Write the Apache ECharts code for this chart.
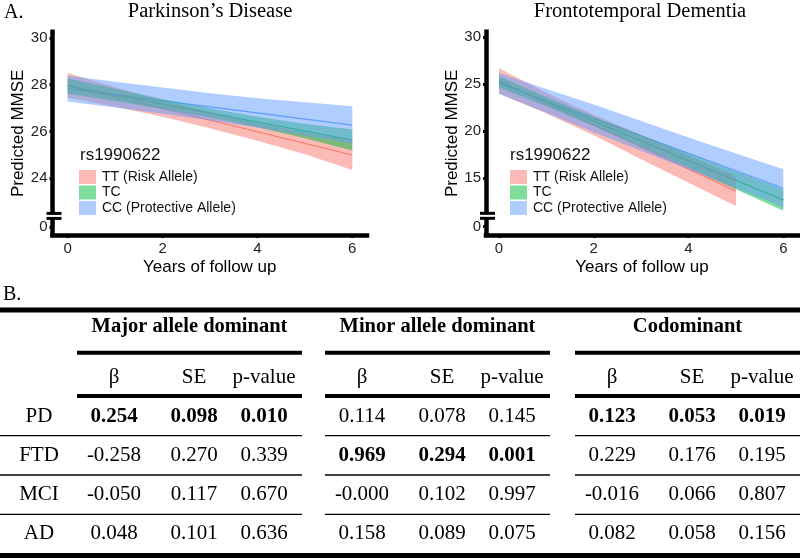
<!DOCTYPE html>
<html><head><meta charset="utf-8">
<script src="https://cdn.jsdelivr.net/npm/echarts@6/dist/echarts.min.js"></script>
<style>html,body{margin:0;padding:0;background:#fff}#c{width:800px;height:558px}</style>
</head><body><div id="c"></div>
<script>
// ---------------- DATA ----------------
const genotypes = ['TT (Risk Allele)', 'TC', 'CC (Protective Allele)'];
const legendTitle = 'rs1990622';
const plotTitles = ['Parkinson\u2019s Disease', 'Frontotemporal Dementia'];
const xTicks = [0, 2, 4, 6];
const pdYTicks = [0, 24, 26, 28, 30];
const ftdYTicks = [0, 15, 20, 25, 30];

const years6 = [0, 1, 2, 3, 4, 5, 6];
const years5 = [0, 1, 2, 3, 4, 5];

// Parkinson's Disease: fitted lines (endpoints) and confidence bands
const pdTTFit = [[0, 27.97], [6, 24.99]];
const pdTCFit = [[0, 27.94], [6, 25.63]];
const pdCCFit = [[0, 27.83], [6, 26.27]];
const pdTTLo = [27.45, 27.05, 26.62, 26.13, 25.60, 25.02, 24.35];
const pdTTHi = [28.49, 27.89, 27.32, 26.83, 26.36, 25.96, 25.63];
const pdTCLo = [27.62, 27.30, 26.96, 26.59, 26.18, 25.71, 25.18];
const pdTCHi = [28.26, 27.82, 27.38, 26.99, 26.62, 26.33, 26.08];
const pdCCLo = [27.28, 27.02, 26.75, 26.47, 26.16, 25.82, 25.47];
const pdCCHi = [28.38, 28.12, 27.87, 27.63, 27.42, 27.24, 27.07];

// Frontotemporal Dementia
const ftdTTFit = [[0, 25.35], [5, 13.65]];
const ftdTCFit = [[0, 25.25], [6, 12.69]];
const ftdCCFit = [[0, 25.10], [6, 13.94]];
const ftdTTLo = [24.00, 21.91, 19.57, 17.03, 14.54, 12.05];
const ftdTTHi = [26.70, 24.11, 21.77, 19.63, 17.44, 15.25];
const ftdTCLo = [24.65, 22.66, 20.56, 18.37, 16.13, 13.83, 11.55];
const ftdTCHi = [25.85, 23.66, 21.56, 19.57, 17.63, 15.73, 13.83];
const ftdCCLo = [24.00, 21.98, 19.91, 17.94, 15.97, 13.95, 11.92];
const ftdCCHi = [26.20, 24.50, 22.85, 21.10, 19.35, 17.65, 15.96];

// Table
const groups = ['Major allele dominant', 'Minor allele dominant', 'Codominant'];
const statHeads = ['\u03B2', 'SE', 'p-value'];
const outcomes = ['PD', 'FTD', 'MCI', 'AD'];
const majorBeta = ['0.254', '-0.258', '-0.050', '0.048'];
const majorSE   = ['0.098', '0.270', '0.117', '0.101'];
const majorP    = ['0.010', '0.339', '0.670', '0.636'];
const minorBeta = ['0.114', '0.969', '-0.000', '0.158'];
const minorSE   = ['0.078', '0.294', '0.102', '0.089'];
const minorP    = ['0.145', '0.001', '0.997', '0.075'];
const codomBeta = ['0.123', '0.229', '-0.016', '0.082'];
const codomSE   = ['0.053', '0.176', '0.066', '0.058'];
const codomP    = ['0.019', '0.195', '0.807', '0.156'];

// ---------------- STYLE / LAYOUT ----------------
const lineColors = ['#F8766D', '#00BA38', '#619CFF'];
const fillColors = ['rgba(248,118,109,0.5)', 'rgba(0,186,56,0.5)', 'rgba(97,156,255,0.5)'];
const SANS = 'Liberation Sans, Arial, sans-serif';
const SERIF = 'Liberation Serif, Times New Roman, serif';
const pdZeroAt = 21.92;   // display position of the "0" tick below the axis break
const ftdZeroAt = 9.85;

function disp(v, zeroAt) { return v === 0 ? zeroAt : v; }

const chart = echarts.init(document.getElementById('c'), null, {renderer: 'canvas'});

function band(name, gi, xs, lo, hi, k) {
  return {
    type: 'custom', name: name, xAxisIndex: gi, yAxisIndex: gi,
    itemStyle: {color: fillColors[k]}, z: 3, silent: true,
    data: xs.map((x, i) => [x, lo[i], hi[i]]),
    encode: {x: 0, y: [1, 2]},
    renderItem: function (params, api) {
      if (params.dataIndex !== 0) return;
      const pts = [];
      for (let i = 0; i < xs.length; i++) pts.push(api.coord([xs[i], hi[i]]));
      for (let i = xs.length - 1; i >= 0; i--) pts.push(api.coord([xs[i], lo[i]]));
      return {type: 'polygon', shape: {points: pts}, style: {fill: fillColors[k]}};
    }
  };
}
function fit(name, gi, data, k) {
  return {
    type: 'line', name: name + ' fit', xAxisIndex: gi, yAxisIndex: gi, data: data,
    symbol: 'none', silent: true, z: 2,
    lineStyle: {color: lineColors[k], width: 1.2}
  };
}

function xAxisCfg(gi, min) {
  return {
    type: 'value', gridIndex: gi, min: min, max: 6.31,
    name: 'Years of follow up', nameLocation: 'middle', nameGap: 24,
    nameTextStyle: {fontFamily: SANS, fontSize: 17, color: '#000'},
    axisLine: {show: true, onZero: false, lineStyle: {color: '#000', width: 4.5, cap: 'square'}},
    axisTick: {show: true, length: 3, customValues: xTicks, lineStyle: {color: '#000', width: 3}},
    axisLabel: {customValues: xTicks, margin: 6, fontFamily: SANS, fontSize: 15, color: '#222'},
    splitLine: {show: false}
  };
}
function yAxisCfg(gi, min, max, ticks, zeroAt) {
  const vals = ticks.map(t => disp(t, zeroAt));
  return {
    type: 'value', gridIndex: gi, min: min, max: max,
    name: 'Predicted MMSE', nameLocation: 'middle', nameGap: 24,
    nameTextStyle: {fontFamily: SANS, fontSize: 17, color: '#000'},
    axisLine: {show: true, onZero: false, lineStyle: {color: '#000', width: 4.5, cap: 'square'}},
    axisTick: {show: true, length: 3, customValues: vals, lineStyle: {color: '#000', width: 3}},
    axisLabel: {
      customValues: vals, margin: 5, fontFamily: SANS, fontSize: 15, color: '#222',
      formatter: function (v) {
        for (let i = 0; i < vals.length; i++) if (Math.abs(vals[i] - v) < 1e-6) return String(ticks[i]);
        return '';
      }
    },
    splitLine: {show: false}
  };
}

const series = [];
series.push(fit(genotypes[0], 0, pdTTFit, 0), fit(genotypes[1], 0, pdTCFit, 1), fit(genotypes[2], 0, pdCCFit, 2));
series.push(fit(genotypes[0], 1, ftdTTFit, 0), fit(genotypes[1], 1, ftdTCFit, 1), fit(genotypes[2], 1, ftdCCFit, 2));
series.unshift(
  band(genotypes[0], 0, years6, pdTTLo, pdTTHi, 0),
  band(genotypes[1], 0, years6, pdTCLo, pdTCHi, 1),
  band(genotypes[2], 0, years6, pdCCLo, pdCCHi, 2),
  band(genotypes[0], 1, years5, ftdTTLo, ftdTTHi, 0),
  band(genotypes[1], 1, years6, ftdTCLo, ftdTCHi, 1),
  band(genotypes[2], 1, years6, ftdCCLo, ftdCCHi, 2)
);

function legendCfg(left) {
  return {
    data: genotypes, orient: 'vertical', left: left, top: 170,
    icon: 'rect', itemWidth: 17, itemHeight: 14, itemGap: 1.5, padding: 0,
    selectedMode: false,
    textStyle: {fontFamily: SANS, fontSize: 14, color: '#111', padding: [0, 0, 0, 1]}
  };
}

const option = {
  animation: false,
  backgroundColor: '#fff',
  grid: [
    {left: 52.5, right: 433, top: 31.7, bottom: 323},
    {left: 486, right: 2, top: 31.7, bottom: 323}
  ],
  xAxis: [xAxisCfg(0, -0.32), xAxisCfg(1, -0.274)],
  yAxis: [yAxisCfg(0, 21.57, 30.26, pdYTicks, pdZeroAt), yAxisCfg(1, 8.97, 30.6, ftdYTicks, ftdZeroAt)],
  legend: [legendCfg(79), legendCfg(510)],
  series: series
};
chart.setOption(option);

// ---------------- GRAPHIC: titles, axis breaks, table ----------------
const els = [];
function txt(text, x, y, size, opts) {
  opts = opts || {};
  els.push({
    type: 'text', z: 10, silent: true,
    style: {
      text: text, x: x, y: y, fill: opts.color || '#000',
      font: (opts.bold ? 'bold ' : '') + size + 'px ' + (opts.family || SERIF),
      align: opts.align || 'center', textAlign: opts.align || 'center',
      verticalAlign: 'middle', textVerticalAlign: 'middle'
    }
  });
}
function hline(x1, x2, y, w, color) {
  els.push({type: 'line', z: 10, silent: true, shape: {x1: x1, y1: y, x2: x2, y2: y},
    style: {stroke: color || '#000', lineWidth: w}});
}

txt('A.', 4, 13, 20, {align: 'left'});
txt(plotTitles[0], 210, 12, 20.5);
txt(plotTitles[1], 640, 12, 20.5);
txt(legendTitle, 80, 155, 17, {align: 'left', family: SANS, color: '#111'});
txt(legendTitle, 510, 155, 17, {align: 'left', family: SANS, color: '#111'});

// axis breaks
[[0, pdZeroAt, -0.32], [1, ftdZeroAt, -0.274]].forEach(function (b) {
  const p = chart.convertToPixel({gridIndex: b[0]}, [b[2], b[1]]);
  const ax = p[0], y0 = p[1];
  const yTop = y0 - 13.4, yBot = y0 - 8.4;
  els.push({type: 'rect', z: 9, silent: true, shape: {x: ax - 4, y: yTop, width: 8, height: yBot - yTop},
    style: {fill: '#fff'}});
  hline(ax - 6, ax + 9, yTop, 3);
  hline(ax - 6, ax + 9, yBot, 3);
});

// table
const spans = [[77, 302], [325, 550], [575, 800]];
const colOffsets = [37, 117, 187];
const rowY = [416.5, 455.5, 494.5, 533.5];
const tableData = [
  [majorBeta, majorSE, majorP],
  [minorBeta, minorSE, minorP],
  [codomBeta, codomSE, codomP]
];
txt('B.', 3, 295, 20, {align: 'left'});
hline(0, 800, 310, 5);
hline(0, 800, 555.5, 5);
spans.forEach(function (s, g) {
  const cx = (s[0] + s[1]) / 2;
  txt(groups[g], cx, 327, 20.5, {bold: true});
  hline(s[0], s[1], 352.7, 4);
  statHeads.forEach(function (h, c) { txt(h, s[0] + colOffsets[c], 377, 21); });
  hline(s[0], s[1], 396, 4);
  const sepStart = g === 0 ? 0 : s[0];
  [435.7, 475, 514.3].forEach(function (y) { hline(sepStart, s[1], y, 1.3); });
  const cols = tableData[g];
  outcomes.forEach(function (o, r) {
    const bold = parseFloat(cols[2][r]) < 0.05;
    for (let c = 0; c < 3; c++) txt(cols[c][r], s[0] + colOffsets[c], rowY[r], 21, {bold: bold});
  });
});
outcomes.forEach(function (o, r) { txt(o, 39, rowY[r], 21); });

chart.setOption({graphic: {elements: els}});
</script>
</body></html>
